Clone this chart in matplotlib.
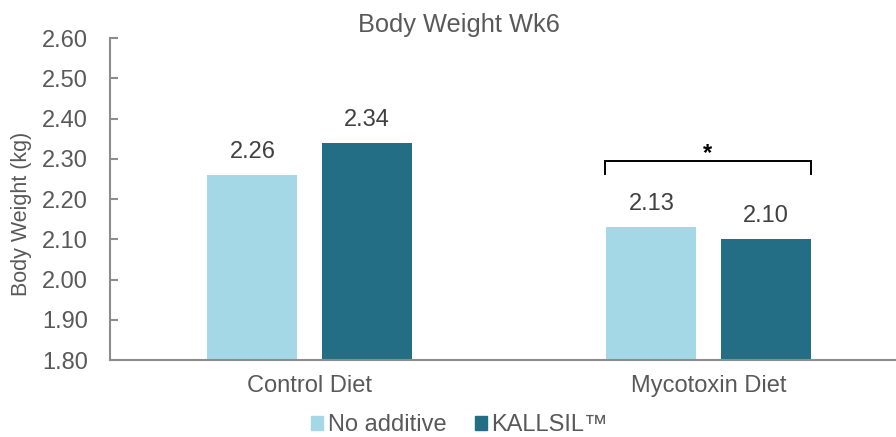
import numpy as np
import matplotlib.pyplot as plt
from matplotlib.patches import Patch

plt.rcParams['font.family'] = ['Liberation Sans', 'DejaVu Sans']

categories = ["Control Diet", "Mycotoxin Diet"]
no_additive = [2.26, 2.13]
kallsil = [2.34, 2.10]
series_names = ["No additive", "KALLSIL\u2122"]
yticks = [1.80, 1.90, 2.00, 2.10, 2.20, 2.30, 2.40, 2.50, 2.60]

light = "#A5D8E6"
dark = "#236E85"
grey = "#595959"
axis_grey = "#8C8C8C"

fig = plt.figure(figsize=(8.96, 4.37), dpi=100)
ax = fig.add_axes([0.1228, 0.1762, 0.8906, 0.7362])

x = np.arange(len(categories))
w = 0.2256
off = 0.143
b1 = ax.bar(x - off, np.array(no_additive) - 1.8, w, bottom=1.8, color=light)
b2 = ax.bar(x + off, np.array(kallsil) - 1.8, w, bottom=1.8, color=dark)

for bars, vals in [(b1, no_additive), (b2, kallsil)]:
    for b, v in zip(bars, vals):
        ax.text(b.get_x() + b.get_width() / 2, v + 0.042, f"{v:.2f}",
                ha="center", va="baseline", fontsize=17, color="#404040")

# significance bracket over mycotoxin group
bx0, bx1, by, bh = 0.74, 1.256, 2.2945, 0.031
ax.plot([bx0, bx0, bx1, bx1], [by - bh, by, by, by - bh], color="black", lw=1.4,
        solid_joinstyle="miter")
ax.text((bx0 + bx1) / 2, by + 0.002, "*", ha="center", va="baseline", fontsize=17,
        fontweight="bold", color="black")

ax.set_xlim(-0.5, 1.5)
ax.set_ylim(1.8, 2.6)
ax.set_yticks(yticks)
ax.set_yticklabels([f"{t:.2f}" for t in yticks], fontsize=17, color=grey)
ax.set_xticks(x)
ax.set_xticklabels(categories, fontsize=17, color=grey)
ax.tick_params(axis="x", length=0, pad=11)
ax.tick_params(axis="y", direction="in", length=5.5, width=1.5, color=axis_grey, pad=16)

for s in ["top", "right"]:
    ax.spines[s].set_visible(False)
for s in ["left", "bottom"]:
    ax.spines[s].set_color(axis_grey)
    ax.spines[s].set_linewidth(1.5)

fig.text(22 / 896, 0.51, "Body Weight (kg)", rotation=90, ha="center", va="center",
         fontsize=15.5, color=grey)
fig.text(0.5123, 0.927, "Body Weight Wk6", ha="center", va="baseline", fontsize=18.3, color=grey)

handles = [Patch(color=light), Patch(color=dark)]
fig.legend(handles, series_names, loc="center", bbox_to_anchor=(0.513, 0.027), ncol=2,
           frameon=False, fontsize=17, handlelength=0.5, handleheight=0.5,
           handletextpad=0.2, columnspacing=1.2, labelcolor=grey,
           borderpad=0, borderaxespad=0)

fig.savefig("out.png", dpi=100)
